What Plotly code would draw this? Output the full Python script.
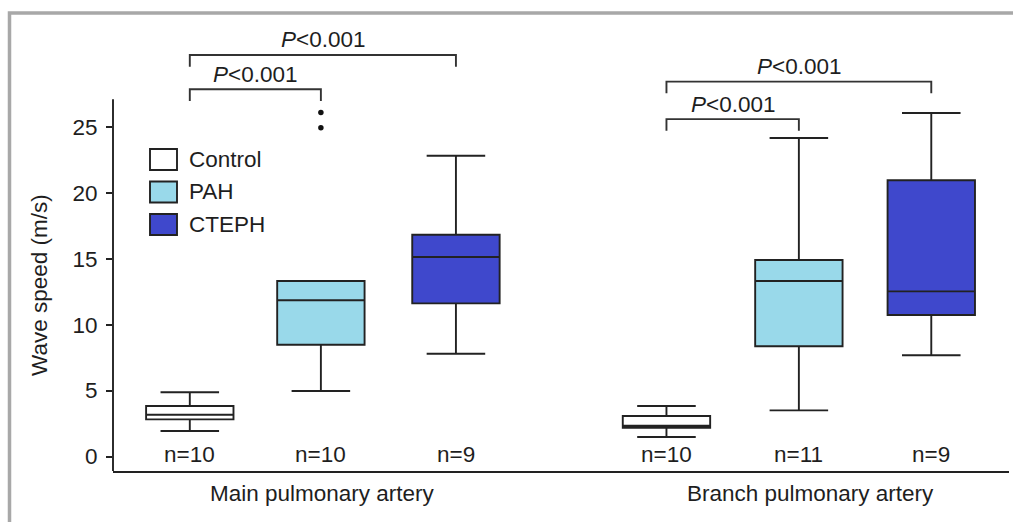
import plotly.graph_objects as go

# ---------------- data ----------------
groups = ["Control", "PAH", "CTEPH"]
sites = ["Main pulmonary artery", "Branch pulmonary artery"]
group_colors = ["#ffffff", "#99d9ea", "#3f48cc"]

# box order: Control/PAH/CTEPH (main), Control/PAH/CTEPH (branch)
box_group = ["Control", "PAH", "CTEPH", "Control", "PAH", "CTEPH"]
box_site = [0, 0, 0, 1, 1, 1]
q1_vals = [2.82, 8.48, 11.62, 2.18, 8.36, 10.74]
median_vals = [3.17, 11.85, 15.14, 2.33, 13.32, 12.53]
q3_vals = [3.83, 13.32, 16.83, 3.07, 14.91, 20.96]
lower_vals = [1.93, 4.97, 7.80, 1.48, 3.50, 7.68]
upper_vals = [4.87, 13.32, 22.82, 3.83, 24.17, 26.06]
n_counts = [10, 10, 9, 10, 11, 9]
outlier_box = [1, 1]
outlier_vals = [24.95, 26.10]
y_ticks = [0, 5, 10, 15, 20, 25]
p_label = "<i>P</i>&lt;0.001"
# comparisons: (box from, box to)
comparisons = [(0, 1), (0, 2), (3, 4), (3, 5)]

# ---------------- layout helpers ----------------
W, H = 1013, 522
ml, mr, mt, mb = 113, 4, 30, 51
box_pos = [0, 0.99, 2.01, 3.6, 4.6, 5.6]
x_range = [-0.58, 6.187]
y_range = [-1.1, 32.36]
axis_top = 27.1
FONT = "Liberation Sans, Arial, sans-serif"
FS = 22.5
TXT = "#1e1e1e"
LINE = "#222222"
LW = 1.9


def px_x(px):
    return (px - ml) / (W - ml - mr)


def px_y(py):
    return (H - mb - py) / (H - mt - mb)


fig = go.Figure()

for g, col in zip(groups, group_colors):
    idx = [i for i, bg in enumerate(box_group) if bg == g]
    fig.add_trace(go.Box(
        x=[box_pos[i] for i in idx],
        q1=[q1_vals[i] for i in idx],
        median=[median_vals[i] for i in idx],
        q3=[q3_vals[i] for i in idx],
        lowerfence=[lower_vals[i] for i in idx],
        upperfence=[upper_vals[i] for i in idx],
        name=g,
        width=0.66,
        whiskerwidth=0.67,
        fillcolor=col,
        line=dict(color=LINE, width=LW),
        boxpoints=False,
        showlegend=False,
        hoverinfo="skip",
    ))

fig.add_trace(go.Scatter(
    x=[box_pos[i] for i in outlier_box],
    y=outlier_vals,
    mode="markers",
    marker=dict(color="#111111", size=5.5),
    showlegend=False,
    hoverinfo="skip",
))

shapes = []
annotations = []

# y axis line (only up to axis_top)
shapes.append(dict(type="line", xref="paper", yref="paper", x0=0, x1=0,
                   y0=0, y1=(axis_top - y_range[0]) / (y_range[1] - y_range[0]),
                   line=dict(color=LINE, width=LW)))

# outer gray frame
shapes.append(dict(type="rect", xref="paper", yref="paper",
                   x0=px_x(9.5), x1=px_x(1060), y0=px_y(580), y1=px_y(13),
                   line=dict(color="#a8a8a8", width=3.5), fillcolor="rgba(0,0,0,0)"))

# significance brackets
bracket_levels = [27.86, 30.46, 25.60, 28.44]
leg_drop = 0.88
label_offset = [1.1, 1.2, 1.1, 1.17]
for (a, b), lvl, off in zip(comparisons, bracket_levels, label_offset):
    xa, xb = box_pos[a], box_pos[b]
    shapes.append(dict(type="path", xref="x", yref="y",
                       path=f"M {xa},{lvl-leg_drop} L {xa},{lvl} L {xb},{lvl} L {xb},{lvl-leg_drop}",
                       line=dict(color="#333333", width=LW)))
    annotations.append(dict(x=(xa + xb) / 2, y=lvl + off, xref="x", yref="y",
                            text=p_label, showarrow=False, xanchor="center", yanchor="middle",
                            font=dict(family=FONT, size=FS, color=TXT)))

# n labels
for pos, n in zip(box_pos, n_counts):
    annotations.append(dict(x=pos, y=0.15, xref="x", yref="y", text=f"n={n}",
                            showarrow=False, xanchor="center", yanchor="middle",
                            font=dict(family=FONT, size=FS, color=TXT)))

# site labels
site_centers = [px_x(322), px_x(810)]
for s, cx in zip(sites, site_centers):
    annotations.append(dict(x=cx, y=px_y(493), xref="paper", yref="paper", text=s,
                            showarrow=False, xanchor="center", yanchor="middle",
                            font=dict(family=FONT, size=FS, color=TXT)))

# y title
annotations.append(dict(x=px_x(39), y=px_y(285), xref="paper", yref="paper",
                        text="Wave speed (m/s)", textangle=-90, showarrow=False,
                        xanchor="center", yanchor="middle",
                        font=dict(family=FONT, size=FS, color=TXT)))

# manual legend
leg_tops = [149, 181.5, 214]
for g, col, top in zip(groups, group_colors, leg_tops):
    shapes.append(dict(type="rect", xref="paper", yref="paper",
                       x0=px_x(150), x1=px_x(177), y0=px_y(top + 21), y1=px_y(top),
                       line=dict(color=LINE, width=LW), fillcolor=col))
    annotations.append(dict(x=px_x(187), y=px_y(top + 10.5), xref="paper", yref="paper",
                            text=g, showarrow=False, xanchor="left", yanchor="middle",
                            font=dict(family=FONT, size=FS, color=TXT)))

fig.update_layout(
    width=W, height=H,
    margin=dict(l=ml, r=mr, t=mt, b=mb),
    paper_bgcolor="white", plot_bgcolor="white",
    boxmode="overlay",
    shapes=shapes,
    annotations=annotations,
    font=dict(family=FONT, size=FS, color=TXT),
    xaxis=dict(range=x_range, showgrid=False, zeroline=False, showticklabels=False,
               ticks="", showline=True, linecolor=LINE, linewidth=LW, fixedrange=True),
    yaxis=dict(range=y_range, showgrid=False, zeroline=False, showline=False,
               tickvals=y_ticks, ticks="outside", ticklen=6, tickwidth=LW,
               tickcolor=LINE, ticklabelstandoff=4,
               tickfont=dict(family=FONT, size=FS, color=TXT), fixedrange=True),
)

fig.write_html("out.html")
